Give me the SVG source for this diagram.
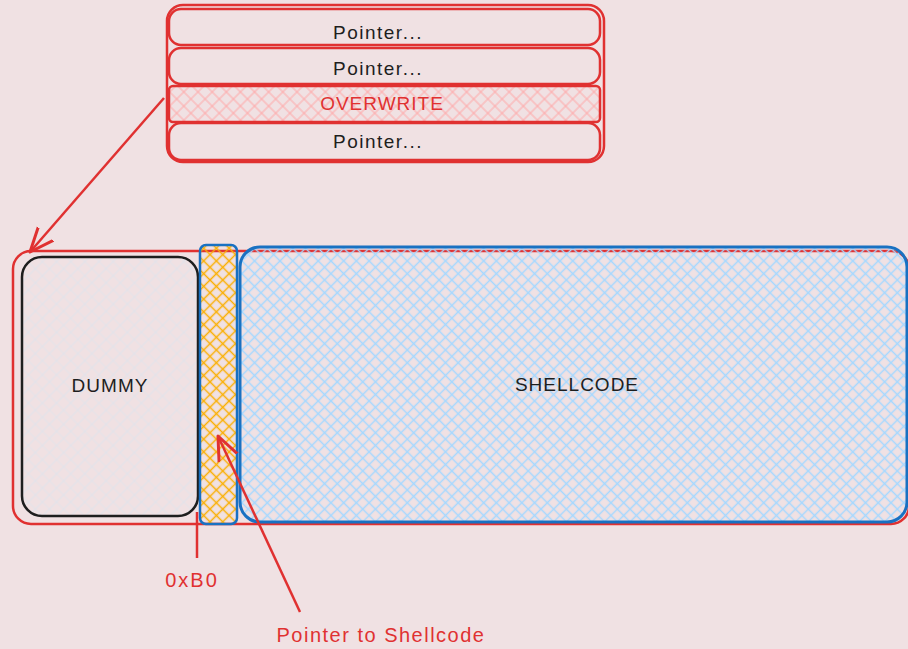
<svg xmlns="http://www.w3.org/2000/svg" width="908" height="649" viewBox="0 0 908 649">
<style>
.t{font-family:"Liberation Sans",Arial,sans-serif;font-size:19px;text-anchor:middle;dominant-baseline:central}
.lw{letter-spacing:1.5px}
.red{stroke:#e03131;fill:none;stroke-width:2.5}
.blk{fill:#1e1e1e}
.rt{fill:#e03131}
</style>
<defs>
<pattern id="hRed" width="10" height="10" patternUnits="userSpaceOnUse" patternTransform="rotate(45)">
<path d="M0 5H10M5 0V10" stroke="#ffa8a8" stroke-width="1"/>
</pattern>
<pattern id="hGray" width="10" height="10" patternUnits="userSpaceOnUse" patternTransform="rotate(45)">
<path d="M0 5H10M5 0V10" stroke="#e3e3ea" stroke-width="1.2"/>
</pattern>
<pattern id="hYel" width="9" height="9" patternUnits="userSpaceOnUse" patternTransform="rotate(45)">
<path d="M0 4.5H9M4.5 0V9" stroke="#fab005" stroke-width="1.5"/>
</pattern>
<pattern id="hBlue" width="9" height="9" patternUnits="userSpaceOnUse" patternTransform="rotate(45)">
<path d="M0 4.5H9M4.5 0V9" stroke="#a5d8ff" stroke-width="1.5"/>
</pattern>
<marker id="ar" viewBox="0 0 26 26" refX="24" refY="13" markerWidth="26" markerHeight="26" markerUnits="userSpaceOnUse" orient="auto">
<path d="M0 3L24 13L0 23" fill="none" stroke="#e03131" stroke-width="3" stroke-linecap="round" stroke-linejoin="round"/>
</marker>
</defs>
<rect width="908" height="649" fill="#f0e1e3"/>

<g id="stack">
<rect x="167" y="5" width="437" height="157" rx="16" class="red"/>
</g>
<g id="row1">
<rect x="169" y="9" width="431" height="36" rx="12" class="red"/>
<text x="378" y="32" class="t blk lw">Pointer...</text>
</g>
<g id="row2">
<rect x="169" y="48" width="431" height="36" rx="12" class="red"/>
<text x="378" y="68" class="t blk lw">Pointer...</text>
</g>
<g id="row3">
<rect x="169" y="86" width="431" height="36" rx="4" class="red" style="fill:url(#hRed)"/>
<text x="382" y="103" class="t rt" style="letter-spacing:1px">OVERWRITE</text>
</g>
<g id="row4">
<rect x="169" y="123" width="431" height="37" rx="12" class="red"/>
<text x="378" y="141" class="t blk lw">Pointer...</text>
</g>

<g id="buffer">
<rect x="13" y="251" width="896" height="273" rx="18" class="red"/>
</g>
<g id="dummy">
<rect x="22" y="257" width="176" height="259" rx="20" fill="url(#hGray)" stroke="#1e1e1e" stroke-width="2.5"/>
<text x="110" y="385" class="t blk" style="letter-spacing:1px">DUMMY</text>
</g>
<g id="ptr">
<rect x="200" y="245" width="37" height="279" rx="6" fill="url(#hYel)" stroke="#1971c2" stroke-width="2.5"/>
</g>
<g id="shellcode">
<rect x="240" y="247" width="667" height="275" rx="20" fill="url(#hBlue)" stroke="#1971c2" stroke-width="3"/>
<text x="577" y="384" class="t blk" style="letter-spacing:1px">SHELLCODE</text>
</g>

<g id="connectors">
<path d="M164 98L30 252" class="red" marker-end="url(#ar)"/>
<path d="M197 512V558" class="red"/>
<path d="M300 612L218 436" class="red" marker-end="url(#ar)"/>
</g>
<g id="labels">
<text x="192" y="580" class="t rt" style="font-size:20px;letter-spacing:2px">0xB0</text>
<text x="381" y="635" class="t rt" style="font-size:20px;letter-spacing:1.5px">Pointer to Shellcode</text>
</g>
</svg>
